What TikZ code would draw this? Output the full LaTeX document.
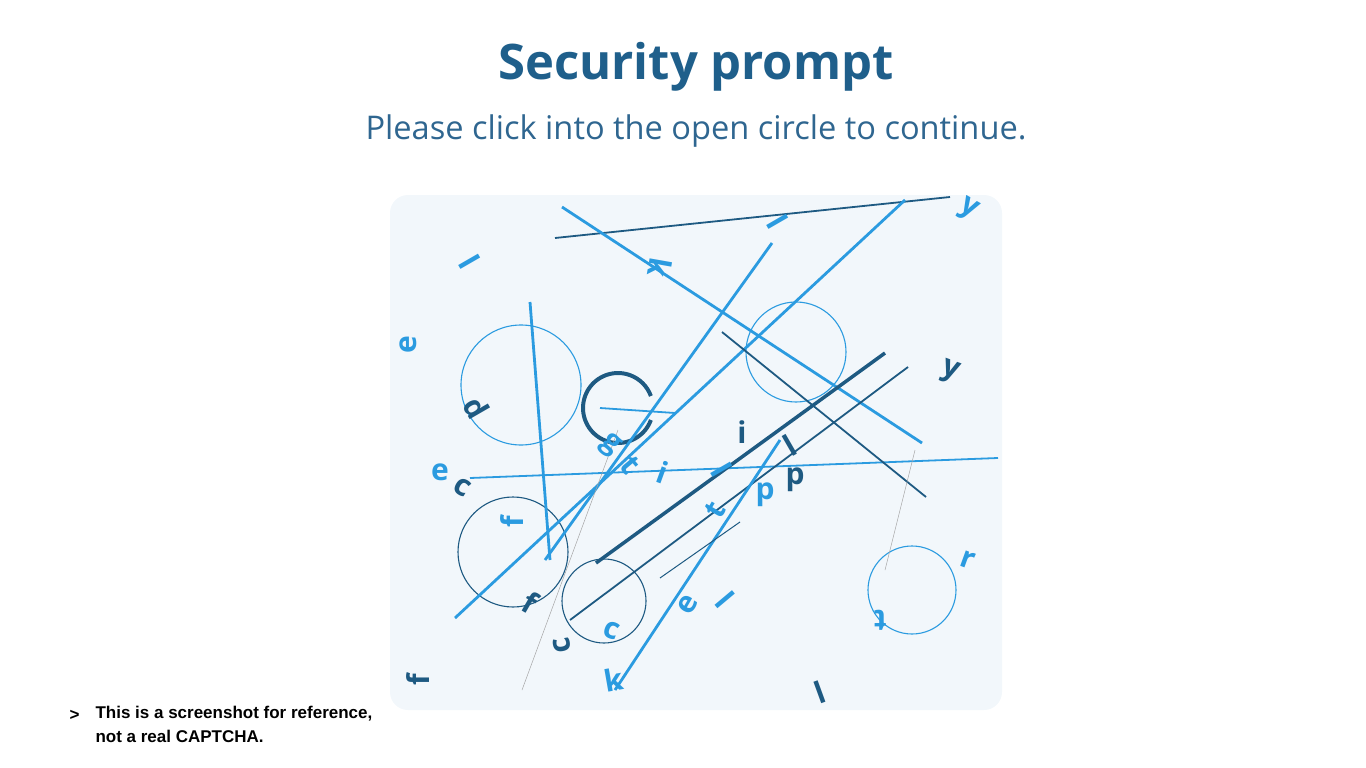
\documentclass[tikz,border=0pt]{standalone}
\usepackage{fontspec}
\setmainfont{Open Sans}
\newfontfamily\footfont{Liberation Sans}
\definecolor{titleblue}{HTML}{1F5F8B}
\definecolor{subblue}{HTML}{2F6690}
\definecolor{panel}{HTML}{F2F7FB}
\definecolor{bright}{HTML}{2B9BE0}
\definecolor{dark}{HTML}{1E5A82}
\tikzset{br/.style={bright,line width=2.8pt},dk/.style={dark,line width=1.8pt},
 thinl/.style={gray!70,line width=0.5pt},
 lt/.style={font=\fontsize{30}{30}\selectfont\bfseries,inner sep=0pt}}
\begin{document}
\begin{tikzpicture}[x=1pt,y=-1pt]
\useasboundingbox (0,0) rectangle (1366,768);
\node[titleblue,font=\fontsize{49}{52}\selectfont\bfseries] (title) at (696,67) {Security prompt};
\node[subblue,font=\fontsize{32.6}{36}\selectfont] (sub) at (696,131) {Please click into the open circle to continue.};
\fill[panel,rounded corners=18pt] (390,195) rectangle (1002,710);
\begin{scope}
\clip[rounded corners=18pt] (390,195) rectangle (1002,710);
% circles
\draw[bright,line width=1.1pt] (521,385) circle (60);
\draw[bright,line width=1.1pt] (796,352) circle (50);
\draw[dark,line width=1.1pt] (513,552) circle (55);
\draw[dark,line width=1.1pt] (604,601) circle (42);
\draw[bright,line width=1.1pt] (912,590) circle (44);
\draw[dark,line width=4pt] (618,408) ++(20:35) arc (20:340:35);
% lines
\draw[dk] (555,238) -- (950,197);
\draw[br] (562,207) -- (922,443);
\draw[br] (455,618) -- (905,200);
\draw[br] (772,243) -- (545,560);
\draw[br] (530,302) -- (550,560);
\draw[bright,line width=1.8pt] (470,478) -- (998,458);
\draw[dk] (722,332) -- (926,497);
\draw[dark,line width=3.5pt] (596,563) -- (885,353);
\draw[dk] (570,620) -- (908,367);
\draw[br] (780,440) -- (615,690);
\draw[dark,line width=1pt] (660,578) -- (740,522);
\draw[thinl] (522,690) -- (618,430);
\draw[thinl] (885,570) -- (915,450);
\draw[bright,line width=1.8pt] (600,408) -- (675,413);
% letters
\node[lt,bright,rotate=-60] (l1) at (470,262) {l};
\node[lt,bright,rotate=90] (l2) at (408,345) {e};
\node[lt,dark,rotate=120] (l3) at (477,408) {p};
\node[lt,bright] (l4) at (440,472) {e};
\node[lt,dark,rotate=-30] (l5) at (462,487) {c};
\node[lt,bright,rotate=90] (l6) at (512,522) {f};
\node[lt,dark,rotate=-30] (l7) at (530,602) {f};
\node[lt,dark,rotate=100] (l8) at (562,645) {c};
\node[lt,bright,rotate=-20] (l9) at (612,630) {c};
\node[lt,bright,rotate=10] (l10) at (614,680) {k};
\node[lt,dark,rotate=90] (l11) at (418,680) {f};
\node[lt,bright,rotate=-100] (l12) at (660,268) {k};
\node[lt,bright,rotate=-60] (l13) at (778,222) {l};
\node[lt,bright,rotate=-30] (l14) at (968,210) {y};
\node[lt,dark,rotate=-20] (l15) at (950,372) {y};
\node[lt,bright,rotate=-40] (l16) at (610,445) {g};
\node[lt,bright,rotate=-50] (l17) at (630,465) {t};
\node[lt,bright,rotate=-20] (l18) at (663,472) {i};
\node[lt,dark] (l19) at (742,432) {i};
\node[lt,dark,rotate=30] (l20) at (790,445) {l};
\node[lt,bright,rotate=-60] (l21) at (722,470) {l};
\node[lt,dark] (l22) at (795,480) {p};
\node[lt,bright] (l23) at (765,495) {p};
\node[lt,bright,rotate=60] (l24) at (715,510) {t};
\node[lt,bright,rotate=60] (l25) at (688,605) {e};
\node[lt,bright,rotate=-50] (l26) at (725,600) {l};
\node[lt,bright,rotate=-20] (l27) at (968,560) {r};
\node[lt,bright,rotate=180] (l28) at (880,620) {t};
\node[lt,dark,rotate=20] (l29) at (820,692) {l};
\end{scope}
\node[font=\footfont\fontsize{17}{17}\selectfont\bfseries,anchor=west] (gt) at (66,715) {>};
\node[font=\footfont\fontsize{17}{24}\selectfont\bfseries,anchor=north west,align=left] (foot) at (92,703) {This is a screenshot for reference,\\not a real CAPTCHA.};
\end{tikzpicture}
\end{document}
